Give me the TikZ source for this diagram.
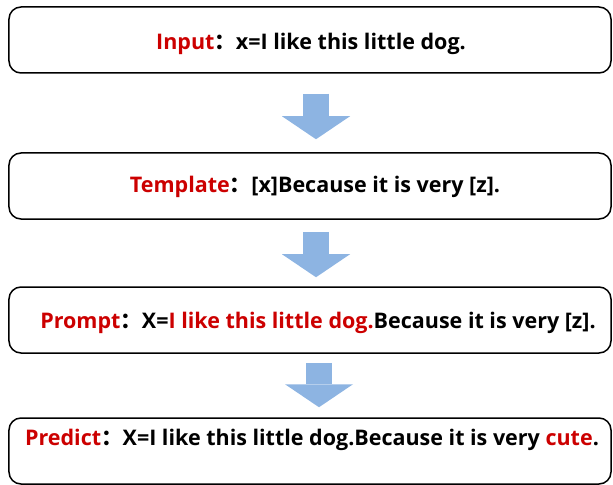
\documentclass[tikz,border=0pt]{standalone}
\usepackage{fontspec}
\setmainfont{Open Sans}
\newfontfamily\cjk{Noto Sans CJK SC}
\usetikzlibrary{arrows.meta,calc}

\definecolor{labelred}{RGB}{204,0,0}
\definecolor{flowblue}{RGB}{141,180,226}
\newcommand{\redtxt}[1]{\textcolor{labelred}{#1}}
\newcommand{\fullcolon}{{\cjk\bfseries ：}}

\tikzset{
    stagebox/.style={draw=black, line width=1.5bp, rounded corners=12bp, minimum width=602bp, minimum height=66bp, inner sep=0pt},
    stagetext/.style={font=\bfseries\fontsize{21.5bp}{26bp}\selectfont, inner sep=0pt},
    flowarrow/.style={flowblue, line width=26bp, -{Triangle[width=68bp,length=23bp,line width=0pt]}}
}

\begin{document}
\begin{tikzpicture}[x=1bp,y=-1bp]
        \useasboundingbox (0,0) rectangle (613,485);

        % the four stages
        \node[stagebox] (input) at (310,40) {};
        \node[stagebox] (template) at (310,186) {};
        \node[stagebox] (prompt) at (310,320) {};
        \node[stagebox] (predict) at (310,451) {};

        % texts in the boxes
        \node[stagetext] (inputtxt) at (311,44) {\redtxt{Input}\fullcolon x=I like this little dog.};
        \node[stagetext] (templatetxt) at (315,187) {\redtxt{Template}\fullcolon [x]Because it is very [z].};
        \node[stagetext] (prompttxt) at (318,323) {\redtxt{Prompt}\fullcolon X=\redtxt{I like this little dog.}Because it is very [z].};
        \node[stagetext] (predicttxt) at (312,440) {\redtxt{Predict}\fullcolon X=I like this little dog.Because it is very \redtxt{cute}.};

        % block arrows between the stages
        \foreach \a/\b/\s/\e/\dx in {input/template/20/13/6, template/prompt/12/9/6, prompt/predict/9/10/9}
            \draw[flowarrow] ($(\a.south)+(\dx,\s)$) -- ($(\b.north)+(\dx,-\e)$);
\end{tikzpicture}
\end{document}
